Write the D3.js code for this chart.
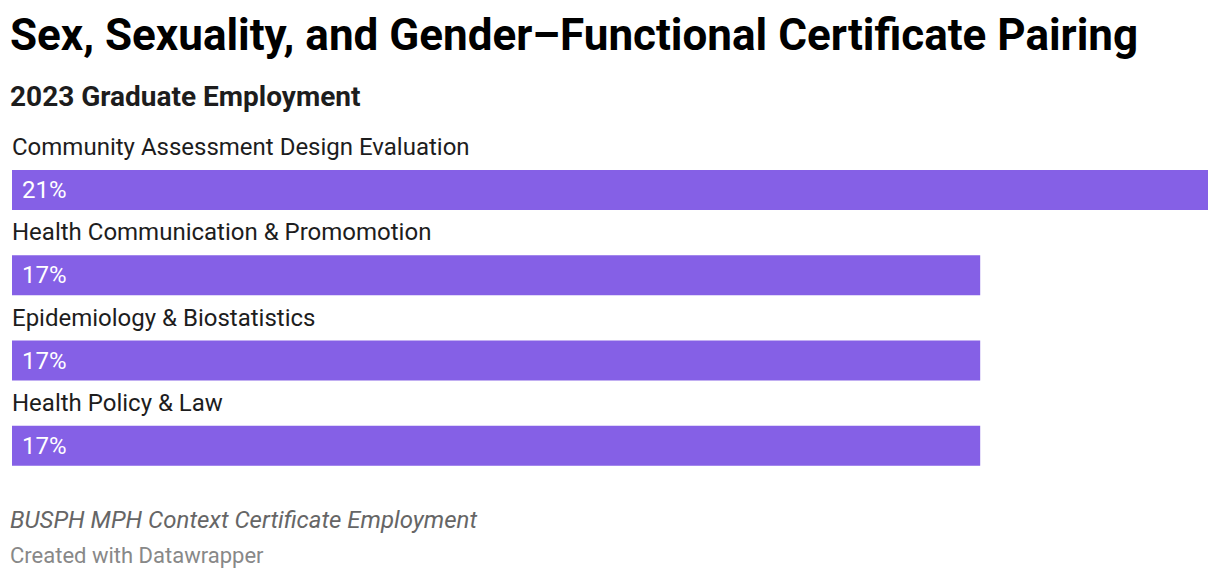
<!DOCTYPE html>
<html><head><meta charset="utf-8">
<script src="https://cdn.jsdelivr.net/npm/d3@7"></script>
<style>
html,body{margin:0;padding:0;background:#fff;}
svg{display:block;font-family:Roboto,"Noto Sans",sans-serif;}
</style></head>
<body>
<svg id="chart" width="1220" height="580"></svg>
<script>
const categories = ["Community Assessment Design Evaluation","Health Communication & Promomotion","Epidemiology & Biostatistics","Health Policy & Law"];
const values = [21, 17, 17, 17];
const valueLabels = ["21%","17%","17%","17%"];

const svg = d3.select("#chart");
svg.append("text").attr("x",10).attr("y",50).attr("font-size",44).attr("font-weight",700).attr("fill","#000")
  .text("Sex, Sexuality, and Gender\u2013Functional Certificate Pairing");
svg.append("text").attr("x",10).attr("y",106).attr("font-size",28).attr("font-weight",700).attr("fill","#1d1d1d")
  .text("2023 Graduate Employment");

const x = d3.scaleLinear().domain([0, d3.max(values)]).range([12, 1208]);
const y = d3.scaleBand().domain(categories).range([128, 469]).paddingInner(0).paddingOuter(0);

const g = svg.append("g");
const rows = g.selectAll("g.row").data(categories).join("g").attr("class","row")
  .attr("transform", d => `translate(0,${y(d)})`);
rows.append("text").attr("x",12).attr("y",27).attr("font-size",24).attr("fill","#1d1d1d").text(d=>d);
rows.append("rect").attr("x",x(0)).attr("y",42).attr("height",40)
  .attr("width",(d,i)=>x(values[i])-x(0)).attr("fill","#8560e6");
rows.append("text").attr("x",22).attr("y",70).attr("font-size",24).attr("fill","#fff").text((d,i)=>valueLabels[i]);

svg.append("text").attr("x",10).attr("y",528).attr("font-size",24).attr("font-style","italic").attr("fill","#666")
  .text("BUSPH MPH Context Certificate Employment");
svg.append("text").attr("x",10).attr("y",563).attr("font-size",22).attr("fill","#888")
  .text("Created with Datawrapper");
</script>
</body></html>
